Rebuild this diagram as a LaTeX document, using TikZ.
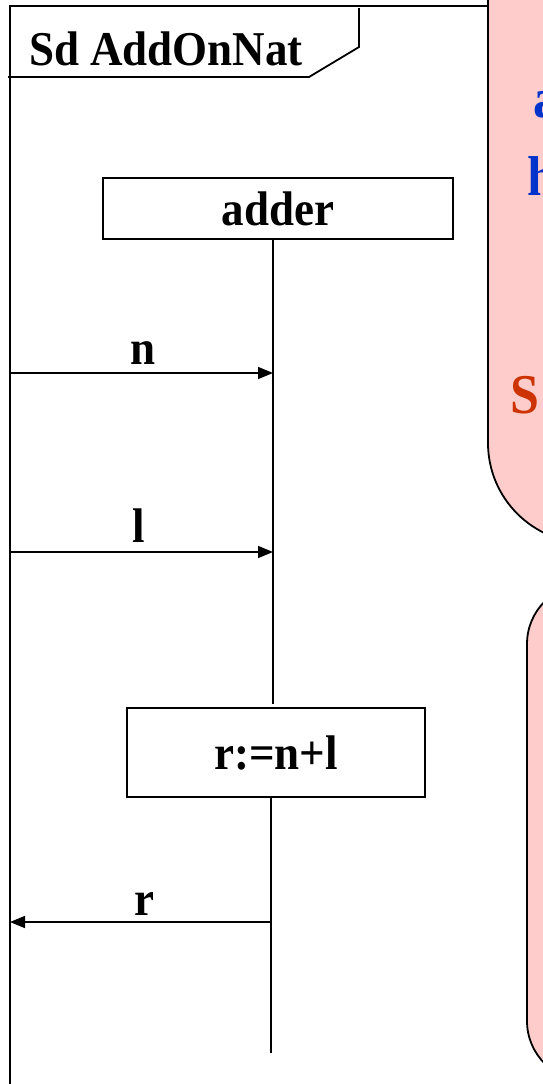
\documentclass[tikz,border=0pt]{standalone}
\usepackage{fontspec}
\setmainfont{Liberation Serif}
\usepackage{graphicx}
\usetikzlibrary{arrows.meta}
\definecolor{callpink}{RGB}{255,204,204}
\definecolor{callblue}{RGB}{0,51,204}
\definecolor{callred}{RGB}{204,51,0}
\newcommand{\stretchtxt}[1]{\scalebox{1}[1.08]{#1}}
\begin{document}
\begin{tikzpicture}[x=1pt,y=-1pt,
  line width=1.8pt,
  lbl/.style={font=\fontsize{45}{54}\selectfont\bfseries, inner sep=0pt, anchor=base},
  obj/.style={draw, line width=1.8pt, inner sep=0pt, font=\fontsize{45}{54}\selectfont\bfseries},
  msg/.style={-{Triangle[length=15pt,width=12pt]}, line width=1.6pt},
  life/.style={line width=1.6pt},
  callout/.style={draw, fill=callpink, line width=1.8pt},
  calltxt/.style={font=\fontsize{52}{60}\selectfont\bfseries, inner sep=0pt, anchor=base west}]
\useasboundingbox (0,0) rectangle (543,1084);
\clip (0,0) rectangle (543,1084);
% frame
\coordinate (ftl) at (10,6);
\coordinate (ftr) at (488,6);
\coordinate (fbl) at (10,1095);
\draw (ftr) -- (ftl) -- (fbl);
\coordinate (tagA) at (8,77);
\coordinate (tagB) at (309,77);
\coordinate (tagC) at (359,47);
\coordinate (tagD) at (359,8);
\draw (tagA) -- (tagB) -- (tagC) -- (tagD);
\node[lbl] (title) at (166,65) {\stretchtxt{Sd AddOnNat}};
% lifeline object
\node[obj, minimum width=350pt, minimum height=61pt] (adder) at (278,208.5) {\stretchtxt{adder}};
\coordinate (l1end) at (273,704);
\draw[life] (adder.south -| l1end) -- (l1end);
% messages in
\coordinate (nL) at (10,373);
\coordinate (nR) at (273,373);
\draw[msg] (nL) -- (nR);
\node[lbl] (nlab) at (143,364) {\stretchtxt{n}};
\coordinate (lL) at (10,552);
\coordinate (lR) at (273,552);
\draw[msg] (lL) -- (lR);
\node[lbl] (llab) at (139,542) {\stretchtxt{l}};
% computation
\node[obj, minimum width=298pt, minimum height=89pt] (calc) at (276,752.5) {\stretchtxt{r:=n+l}};
\coordinate (l2end) at (271,1053);
\draw[life] (calc.south -| l2end) -- (l2end);
\coordinate (rR) at (271,922);
\coordinate (rL) at (10,922);
\draw[msg] (rR) -- (rL);
\node[lbl] (rlab) at (144,915) {\stretchtxt{r}};
% callouts
\draw[callout, rounded corners=100pt] (488,-300) rectangle (900,543);
\draw[callout, rounded corners=60pt] (527,584) rectangle (900,1081);
\node[calltxt, text=callblue] (ca) at (533,117) {\stretchtxt{a}};
\node[calltxt, text=callblue] (cb) at (527,195) {\stretchtxt{h}};
\node[calltxt, text=callred] (cs) at (510,413) {\stretchtxt{S}};
\end{tikzpicture}
\end{document}
